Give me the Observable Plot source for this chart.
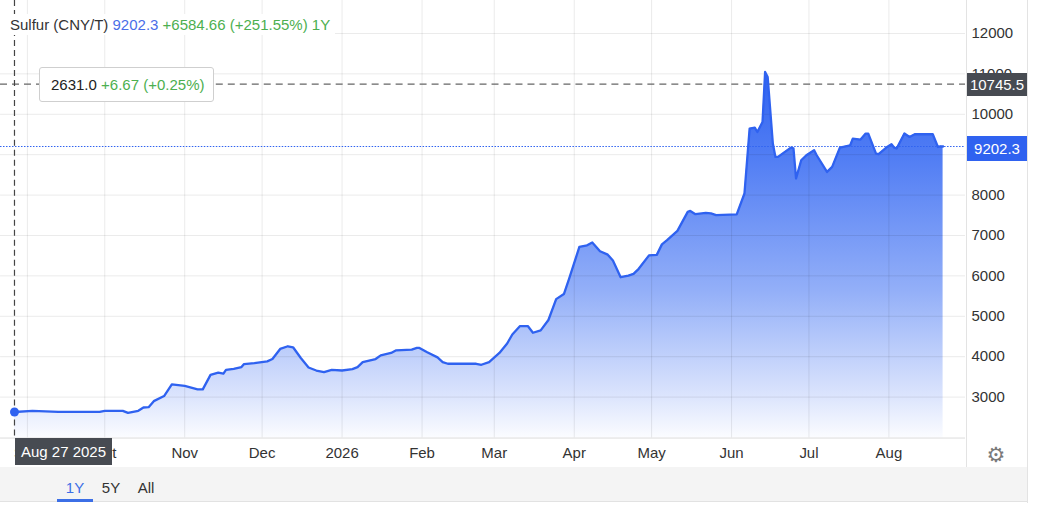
<!DOCTYPE html>
<html><head><meta charset="utf-8">
<script src="https://cdn.jsdelivr.net/npm/d3@7"></script>
<script src="https://cdn.jsdelivr.net/npm/@observablehq/plot@0.6"></script>
<style>
body{margin:0;background:#fff;font-family:Arial,"Liberation Sans",sans-serif;}
#wrap{position:relative;width:1027px;height:503px;border-right:1px solid #e3e3e3;box-sizing:content-box;}
#wrap svg{position:absolute;left:0;top:0;}
.abs{position:absolute;white-space:nowrap;}
.green{color:#4caf50;}
</style></head><body><div id="wrap"></div><script>
const dates = ["2025-08-27","2025-09-03","2025-09-13","2025-09-29","2025-10-01","2025-10-08","2025-10-10","2025-10-14","2025-10-16","2025-10-18","2025-10-20","2025-10-24","2025-10-27","2025-11-01","2025-11-06","2025-11-08","2025-11-11","2025-11-14","2025-11-16","2025-11-17","2025-11-20","2025-11-23","2025-11-24","2025-11-28","2025-12-03","2025-12-05","2025-12-08","2025-12-11","2025-12-13","2025-12-16","2025-12-19","2025-12-22","2025-12-25","2025-12-28","2026-01-01","2026-01-05","2026-01-07","2026-01-09","2026-01-14","2026-01-16","2026-01-20","2026-01-22","2026-01-28","2026-01-30","2026-01-31","2026-02-03","2026-02-07","2026-02-09","2026-02-11","2026-02-22","2026-02-24","2026-02-27","2026-03-03","2026-03-06","2026-03-08","2026-03-11","2026-03-14","2026-03-16","2026-03-19","2026-03-22","2026-03-25","2026-03-28","2026-03-30","2026-04-03","2026-04-06","2026-04-08","2026-04-11","2026-04-14","2026-04-16","2026-04-19","2026-04-22","2026-04-24","2026-04-26","2026-04-30","2026-05-03","2026-05-05","2026-05-07","2026-05-11","2026-05-15","2026-05-16","2026-05-18","2026-05-22","2026-05-24","2026-05-26","2026-06-03","2026-06-06","2026-06-08","2026-06-10","2026-06-11","2026-06-13","2026-06-14","2026-06-15","2026-06-17","2026-06-18","2026-06-19","2026-06-24","2026-06-25","2026-06-26","2026-06-28","2026-06-30","2026-07-03","2026-07-04","2026-07-08","2026-07-10","2026-07-13","2026-07-17","2026-07-18","2026-07-21","2026-07-23","2026-07-24","2026-07-27","2026-07-28","2026-07-31","2026-08-02","2026-08-03","2026-08-04","2026-08-07","2026-08-09","2026-08-11","2026-08-18","2026-08-20","2026-08-21","2026-08-22"];
const prices = [2631,2660,2633,2633,2660,2660,2608,2660,2742,2750,2900,3025,3317,3275,3192,3192,3550,3608,3583,3675,3700,3742,3817,3842,3883,3942,4192,4258,4233,3967,3733,3658,3617,3675,3658,3692,3742,3867,3942,4033,4092,4158,4175,4217,4217,4108,3983,3867,3825,3825,3800,3867,4092,4325,4550,4758,4758,4592,4650,4908,5425,5550,5925,6717,6758,6825,6608,6525,6383,5967,6008,6050,6175,6508,6520,6780,6884,7114,7584,7608,7527,7559,7546,7502,7520,8039,9646,9671,9562,9810,11046,10922,9275,8944,8944,9176,9154,8410,8862,8986,9110,8986,8573,8697,9176,9233,9399,9374,9523,9523,9028,9011,9176,9258,9176,9154,9523,9439,9505,9505,9191,9208,9202.3];
const monthTicks = ["2025-09-01","2025-10-01","2025-11-01","2025-12-01","2026-01-01","2026-02-01","2026-03-01","2026-04-01","2026-05-01","2026-06-01","2026-07-01","2026-08-01"];
const monthLabels = ["Sep","Oct","Nov","Dec","2026","Feb","Mar","Apr","May","Jun","Jul","Aug"];
const yTicks = [3000,4000,5000,6000,7000,8000,9000,10000,11000,12000];
const yTickLabels = ["3000","4000","5000","6000","7000","8000","","10000","11000","12000"];
const lastPrice = 9202.3;
const crossPrice = 10745.5;
const crossDate = "2025-08-27";
const crossDateLabel = "Aug 27 2025";
const startPrice = 2631.0;
const tooltipChange = "+6.67 (+0.25%)";
const headerName = "Sulfur (CNY/T)";
const headerChange = "+6584.66 (+251.55%) 1Y";
const rangeButtons = ["1Y","5Y","All"];

const data = dates.map((d,i)=>({date:new Date(d), price:prices[i]}));
const yMin = 1986, yMax = 12816;
const blue = "#2f62f0";

const chart = Plot.plot({
  width: 1028, height: 467,
  marginTop: 0, marginLeft: 0, marginRight: 62, marginBottom: 29,
  style: {fontFamily: "Arial, 'Liberation Sans', sans-serif", fontSize: "15px", color: "#333", background: "transparent", overflow: "visible"},
  x: {type: "utc", domain: [new Date("2025-08-21T14:00Z"), new Date("2026-08-30T17:00Z")], label: null},
  y: {domain: [yMin, yMax], label: null},
  marks: [
    () => {
      const defs = d3.create("svg:defs");
      const lg = defs.append("linearGradient").attr("id","sgrad").attr("gradientUnits","userSpaceOnUse")
        .attr("x1",0).attr("x2",0).attr("y1",70).attr("y2",438);
      lg.append("stop").attr("offset","0").attr("stop-color","#2f62f0");
      lg.append("stop").attr("offset","0.25").attr("stop-color","#537ff4");
      lg.append("stop").attr("offset","0.6").attr("stop-color","#93aff8");
      lg.append("stop").attr("offset","0.9").attr("stop-color","#dfe7fd");
      lg.append("stop").attr("offset","1").attr("stop-color","#fbfcff");
      return defs.node();
    },
    Plot.areaY(data, {x: "date", y1: yMin, y2: "price", fill: "url(#sgrad)"}),
    Plot.gridX(monthTicks.map(d=>new Date(d)), {stroke: "#000", strokeOpacity: 0.085}),
    Plot.gridY(yTicks, {stroke: "#000", strokeOpacity: 0.085}),
    Plot.ruleY([yMin], {stroke: "#dcdcdc"}),
    Plot.ruleY([lastPrice], {stroke: blue, strokeDasharray: "1.5,1.5", strokeWidth: 1}),
    Plot.ruleY([crossPrice], {stroke: "#666", strokeDasharray: "7,5", strokeWidth: 1.2}),
    Plot.ruleX([new Date(crossDate)], {stroke: "#444", strokeDasharray: "6,4", strokeWidth: 1.2}),
    Plot.line(data, {x: "date", y: "price", stroke: blue, strokeWidth: 2.3}),
    Plot.dot([{date: new Date(crossDate), price: startPrice}], {x: "date", y: "price", r: 4.5, fill: blue}),
    Plot.axisX(monthTicks.map(d=>new Date(d)), {tickSize: 0, tickPadding: 9, tickFormat: (d,i)=>monthLabels[i], fill: "#333", label: null}),
    Plot.axisY(yTicks, {anchor: "right", tickSize: 0, tickPadding: 6, tickFormat: (d,i)=>yTickLabels[i], fill: "#333", label: null})
  ]
});
const wrap = document.getElementById("wrap");
wrap.appendChild(chart);
const ys = chart.scale("y"), xs = chart.scale("x");

function add(html, css){ const el=document.createElement("div"); el.className="abs"; el.innerHTML=html; Object.assign(el.style, css); wrap.appendChild(el); return el; }

// axis separator
add("", {left:"966px", top:"0px", width:"1px", height:"467px", background:"#e3e3e3"});
// header
add(`<span style="color:#333">${headerName}</span> <span style="color:#4a6ee8">${lastPrice.toFixed(1)}</span> <span class="green">${headerChange}</span>`,
  {left:"0px", top:"14px", height:"21px", lineHeight:"21px", width:"325px", paddingLeft:"10px", background:"#fff", fontSize:"15px"});
// tooltip
add(`<span style="color:#222">${startPrice.toFixed(1)}</span> <span class="green">${tooltipChange}</span>`,
  {left:"39px", top:"67px", width:"162px", height:"33px", lineHeight:"33px", paddingLeft:"11px", background:"#fff", border:"1px solid #cfcfcf", borderRadius:"3px", fontSize:"15px"});
// price labels on axis
const cy = ys.apply(crossPrice), ly = ys.apply(lastPrice);
add(crossPrice.toFixed(1), {left:"967px", top:(cy-11)+"px", width:"60px", height:"23px", lineHeight:"23px", background:"#474b52", color:"#fff", fontSize:"15px", textAlign:"center"});
add(lastPrice.toFixed(1), {left:"967px", top:(ly-10)+"px", width:"60px", height:"25px", lineHeight:"25px", background:blue, color:"#fff", fontSize:"15px", textAlign:"center"});
// date label
const cx = xs.apply(new Date(crossDate));
add(crossDateLabel, {left:(cx+1)+"px", top:"438px", width:"97px", height:"27px", lineHeight:"27px", background:"#474b52", color:"#fff", fontSize:"15px", textAlign:"center"});
// gear
add("\u2699", {left:"984px", top:"442px", width:"24px", height:"26px", lineHeight:"26px", textAlign:"center", color:"#7a7a7a", fontSize:"21px", fontFamily:"'DejaVu Sans'"});
// bottom bar
add("", {left:"0px", top:"467px", width:"1027px", height:"34px", background:"#f4f4f4", borderBottom:"1px solid #e2e2e2"});
const btnX = [75, 111, 146];
rangeButtons.forEach((b,i)=>{
  add(b, {left:(btnX[i]-20)+"px", top:"476px", width:"40px", height:"24px", lineHeight:"24px", textAlign:"center", fontSize:"15px", color: i===0 ? "#3c6fe6" : "#333"});
});
add("", {left:"57px", top:"499px", width:"36px", height:"3px", background:"#3c6fe6"});
</script></body></html>
